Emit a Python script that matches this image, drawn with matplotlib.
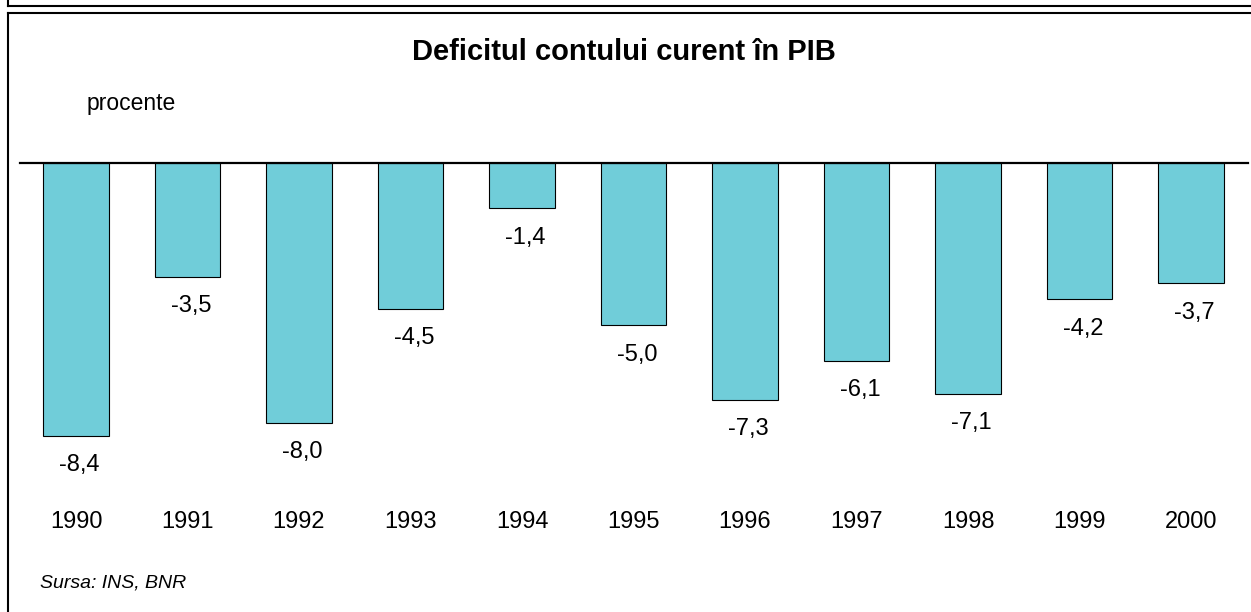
import matplotlib.pyplot as plt
from matplotlib.lines import Line2D
from matplotlib.transforms import blended_transform_factory

plt.rcParams['font.family'] = ['Liberation Sans', 'DejaVu Sans']

years = ['1990', '1991', '1992', '1993', '1994', '1995',
         '1996', '1997', '1998', '1999', '2000']
deficit = [-8.4, -3.5, -8.0, -4.5, -1.4, -5.0, -7.3, -6.1, -7.1, -4.2, -3.7]
labels = ['-8,4', '-3,5', '-8,0', '-4,5', '-1,4', '-5,0',
          '-7,3', '-6,1', '-7,1', '-4,2', '-3,7']

W, H = 1251, 612
fig = plt.figure(figsize=(W / 100, H / 100), dpi=100)
ax = fig.add_axes([0, 0, 1, 1])
ax.set_axis_off()

# pixel mapping: bar centers 76 -> 1191, zero line at y=163
step = 111.5
unit = 32.5
x0, y0 = 76, 163
ax.set_xlim(-x0 / step, (W - x0) / step)
ax.set_ylim(-(H - y0) / unit, y0 / unit)

xs = list(range(len(years)))
ax.bar(xs, deficit, width=0.585, color='#70CDD9', edgecolor='black',
       linewidth=0.8, zorder=2)
ax.axhline(0, xmin=20 / W, xmax=1248 / W, color='black', lw=1.6, zorder=3)

for x, v, lab in zip(xs, deficit, labels):
    ax.text(x + 0.03, v - 0.9, lab, ha='center', va='center', fontsize=17)

tr = blended_transform_factory(ax.transData, ax.transAxes)
for x, y in zip(xs, years):
    ax.text(x, 1 - 522 / H, y, ha='center', va='center', fontsize=17,
            transform=tr)

fig.text(624 / W, 1 - 52 / H, 'Deficitul contului curent în PIB',
         ha='center', va='center', fontsize=21, fontweight='bold')
fig.text(87 / W, 1 - 103 / H, 'procente', ha='left', va='center',
         fontsize=16.5)
fig.text(40 / W, 1 - 583 / H, 'Sursa: INS, BNR', ha='left', va='center',
         fontsize=14, style='italic')

# frame lines
def fline(xa, ya, xb, yb):
    fig.add_artist(Line2D([xa / W, xb / W], [1 - ya / H, 1 - yb / H],
                          color='black', lw=1.5, transform=fig.transFigure))

fline(8, 0, 8, 6)
fline(8, 6, W, 6)
fline(8, 13, W, 13)
fline(8, 13, 8, H)

fig.savefig('out.png', dpi=100)
